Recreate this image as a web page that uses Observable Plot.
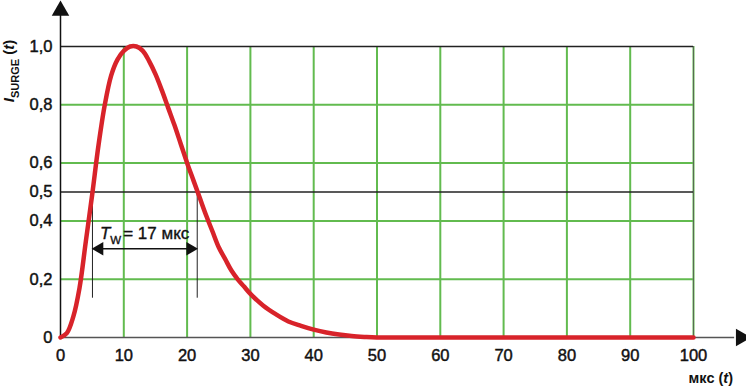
<!DOCTYPE html>
<html>
<head>
<meta charset="utf-8">
<script src="https://cdn.jsdelivr.net/npm/d3@7"></script>
<script src="https://cdn.jsdelivr.net/npm/@observablehq/plot@0.6"></script>
<style>
  body { margin: 0; background: #fff; }
  #chart svg { display: block; }
</style>
</head>
<body>
<div id="chart"></div>
<script>
// --- data ---
const timeUs = [0, 1, 2, 3, 4, 5, 6, 7, 8, 9, 10, 11, 12, 13, 14, 15, 16, 17, 18, 19, 20,
  21, 22, 23, 24, 25, 26, 27, 28, 29, 30, 32, 34, 36, 38, 40, 42, 44, 46, 48, 50, 60, 70, 80, 90, 100];
const surge = [0, 0.015, 0.07, 0.17, 0.33, 0.49, 0.66, 0.8, 0.9, 0.955, 0.985, 1.0, 1.0, 0.985, 0.95, 0.905, 0.85, 0.79, 0.73, 0.665, 0.6,
  0.54, 0.48, 0.42, 0.365, 0.31, 0.27, 0.23, 0.2, 0.175, 0.15, 0.11, 0.08, 0.055, 0.04, 0.027, 0.017, 0.01, 0.005, 0.002, 0, 0, 0, 0, 0, 0];
const xTicks = [0, 10, 20, 30, 40, 50, 60, 70, 80, 90, 100];
const yTicks = [0, 0.2, 0.4, 0.5, 0.6, 0.8, 1.0];
const yGreenGrid = [0.2, 0.4, 0.6, 0.8];
const yBlackGrid = [0.5, 1.0];
const twStart = 5.05;
const twEnd = 21.6;
const twLabel = "= 17 мкс";
const yLabelMain = "I";
const yLabelSub = "SURGE";
const xLabelText = "мкс (";

const green = "#62bb4f";
const red = "#d8232a";
const font = "'Liberation Sans', Arial, sans-serif";

const data = timeUs.map((t, i) => ({t, v: surge[i]}));

const plot = Plot.plot({
  width: 746,
  height: 392,
  marginLeft: 60,
  marginRight: 53,
  marginTop: 46,
  marginBottom: 55,
  style: {fontFamily: font, fontSize: "16.5px", color: "#111", background: "#fff", overflow: "visible"},
  x: {domain: [0, 100], ticks: xTicks, tickSize: 0, tickPadding: 12, label: null},
  y: {domain: [0, 1], ticks: yTicks, tickSize: 0, tickPadding: 8, label: null,
      tickFormat: d => d === 0 ? "0" : d.toFixed(1).replace(".", ",")},
  marks: [
    Plot.ruleX(xTicks.filter(d => d > 0), {y1: 0, y2: 1, stroke: green, strokeWidth: 2}),
    Plot.ruleY(yGreenGrid, {x1: 0, x2: 100, stroke: green, strokeWidth: 2}),
    Plot.ruleY(yBlackGrid, {x1: 0, x2: 100, stroke: "#222", strokeWidth: 1.6}),
    Plot.ruleX([100], {y1: 0, y2: 1, stroke: "#555", strokeWidth: 0.8}),
    // axes with arrows
    Plot.ruleX([0], {y1: 0, y2: 1.125, stroke: "#111", strokeWidth: 1.5}),
    Plot.ruleY([0], {x1: 0, x2: 106.5, stroke: "#555", strokeWidth: 1.5}),
    Plot.dot([{x: 0, y: 1.123}], {x: "x", y: "y", symbol: "triangle", r: 6.5, fill: "#111", stroke: "none"}),
    Plot.dot([{x: 107.5, y: 0}], {x: "x", y: "y", symbol: "triangle", r: 6.5, fill: "#111", stroke: "none", rotate: 90}),
    // Tw annotation
    Plot.ruleX([twStart, twEnd], {y1: 0.5, y2: 0.135, stroke: "#222", strokeWidth: 1}),
    Plot.ruleY([0.305], {x1: twStart + 0.3, x2: twEnd - 0.3, stroke: "#111", strokeWidth: 1.5}),
    Plot.dot([{x: twStart + 1.1, y: 0.305}], {x: "x", y: "y", symbol: "triangle", r: 5, fill: "#111", stroke: "none", rotate: -90}),
    Plot.dot([{x: twEnd - 1.1, y: 0.305}], {x: "x", y: "y", symbol: "triangle", r: 5, fill: "#111", stroke: "none", rotate: 90}),
    // curve
    Plot.line(data, {x: "t", y: "v", stroke: red, strokeWidth: 4.5, curve: "catmull-rom"})
  ]
});

const svg = d3.select(plot);
const xs = plot.scale("x"), ys = plot.scale("y");

// thicken tick label glyphs slightly
svg.selectAll("[aria-label$='tick label'] text").attr("stroke", "#111").attr("stroke-width", 0.45).attr("fill", "#111");

// Tw label
const tw = svg.append("text")
  .attr("x", xs.apply(twStart) + 8)
  .attr("y", ys.apply(0.305) - 9)
  .attr("text-anchor", "start")
  .attr("stroke", "#111").attr("stroke-width", 0.35)
  .style("font-family", font).style("font-size", "17px").attr("fill", "#111");
tw.append("tspan").attr("font-style", "italic").text("T");
tw.append("tspan").style("font-size", "11.5px").attr("dy", 5).text("W");
tw.append("tspan").attr("dy", -5).attr("dx", 2).text(twLabel);

// Y label
const yl = svg.append("text")
  .attr("transform", `translate(14, ${ys.apply(0.914)}) rotate(-90)`)
  .attr("text-anchor", "middle")
  .style("font-family", font).style("font-size", "15px").style("font-weight", "bold").attr("fill", "#111");
yl.append("tspan").attr("font-style", "italic").text(yLabelMain);
yl.append("tspan").style("font-size", "11px").attr("dy", 5).text(yLabelSub);
yl.append("tspan").attr("dy", -5).text(" (");
yl.append("tspan").attr("font-style", "italic").text("t");
yl.append("tspan").text(")");

// X label
const xl = svg.append("text")
  .attr("x", 733).attr("y", 383)
  .attr("text-anchor", "end")
  .style("font-family", font).style("font-size", "14.5px").style("font-weight", "bold").attr("fill", "#111");
xl.append("tspan").text(xLabelText);
xl.append("tspan").attr("font-style", "italic").text("t");
xl.append("tspan").text(")");

document.getElementById("chart").appendChild(plot);
</script>
</body>
</html>
